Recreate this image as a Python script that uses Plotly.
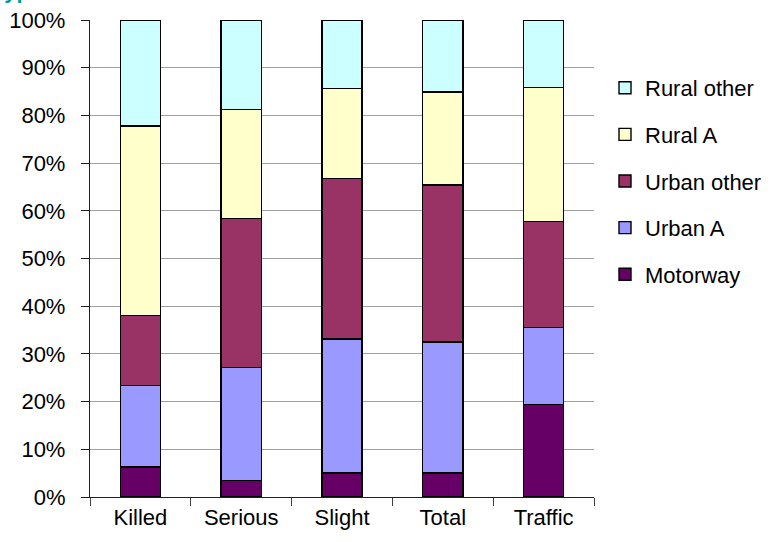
import plotly.graph_objects as go

categories = ["Killed", "Serious", "Slight", "Total", "Traffic"]
motorway = [6.3, 3.4, 5.0, 5.0, 19.4]
urban_a = [17.1, 23.7, 28.1, 27.5, 16.1]
urban_other = [14.7, 31.3, 33.7, 32.9, 22.3]
rural_a = [39.7, 22.8, 18.8, 19.5, 28.1]
rural_other = [22.2, 18.8, 14.4, 15.1, 14.1]

series = [
    ("Motorway", motorway, "#660066"),
    ("Urban A", urban_a, "#9999FF"),
    ("Urban other", urban_other, "#993366"),
    ("Rural A", rural_a, "#FFFFCC"),
    ("Rural other", rural_other, "#CCFFFF"),
]

FONT = "Arial, Liberation Sans, sans-serif"

fig = go.Figure()
for i, (name, vals, col) in enumerate(series):
    fig.add_trace(go.Bar(
        x=categories, y=vals, name=name, legendgroup=name,
        legendrank=100 - i,
        marker=dict(color=col, line=dict(color="black", width=1.4)),
    ))

L, R, T, B = 90, 185, 20, 45
W, H = 779, 542
pw = W - L - R
ph = H - T - B

fig.update_layout(
    width=W, height=H,
    margin=dict(l=L, r=R, t=T, b=B, pad=0, autoexpand=False),
    barmode="stack", bargap=0.6,
    plot_bgcolor="white", paper_bgcolor="white",
    font=dict(family=FONT, size=22, color="black"),
    legend=dict(
        traceorder="grouped", tracegroupgap=15,
        x=(605 - L) / pw, xanchor="left",
        y=(H - B - 181) / ph, yanchor="middle",
        font=dict(family=FONT, size=22, color="black"),
        itemwidth=30, bgcolor="rgba(0,0,0,0)",
    ),
    showlegend=True,
)
fig.update_yaxes(
    range=[0, 100], tickvals=list(range(0, 101, 10)),
    ticktext=[f"{v}%" for v in range(0, 101, 10)],
    showgrid=True, gridcolor="#A0A0A0", gridwidth=1,
    showline=True, linecolor="#202020", linewidth=1.3,
    ticks="outside", ticklen=8, tickcolor="#202020",
    ticklabelstandoff=11, zeroline=False, automargin=False,
    tickfont=dict(family=FONT, size=22),
)
fig.update_xaxes(
    showgrid=False, showline=True, linecolor="#202020", linewidth=1.3,
    ticks="outside", ticklen=8, tickcolor="#404040", tickson="boundaries",
    automargin=False,
    tickfont=dict(family=FONT, size=22),
)
fig.add_annotation(
    text="<b>type</b>", xref="paper", yref="paper",
    x=(-5 - L) / pw, y=(H - B + 10) / ph, xanchor="left", yanchor="middle",
    showarrow=False, font=dict(family=FONT, size=22, color="#009999"),
)

fig.write_html("out.html")
